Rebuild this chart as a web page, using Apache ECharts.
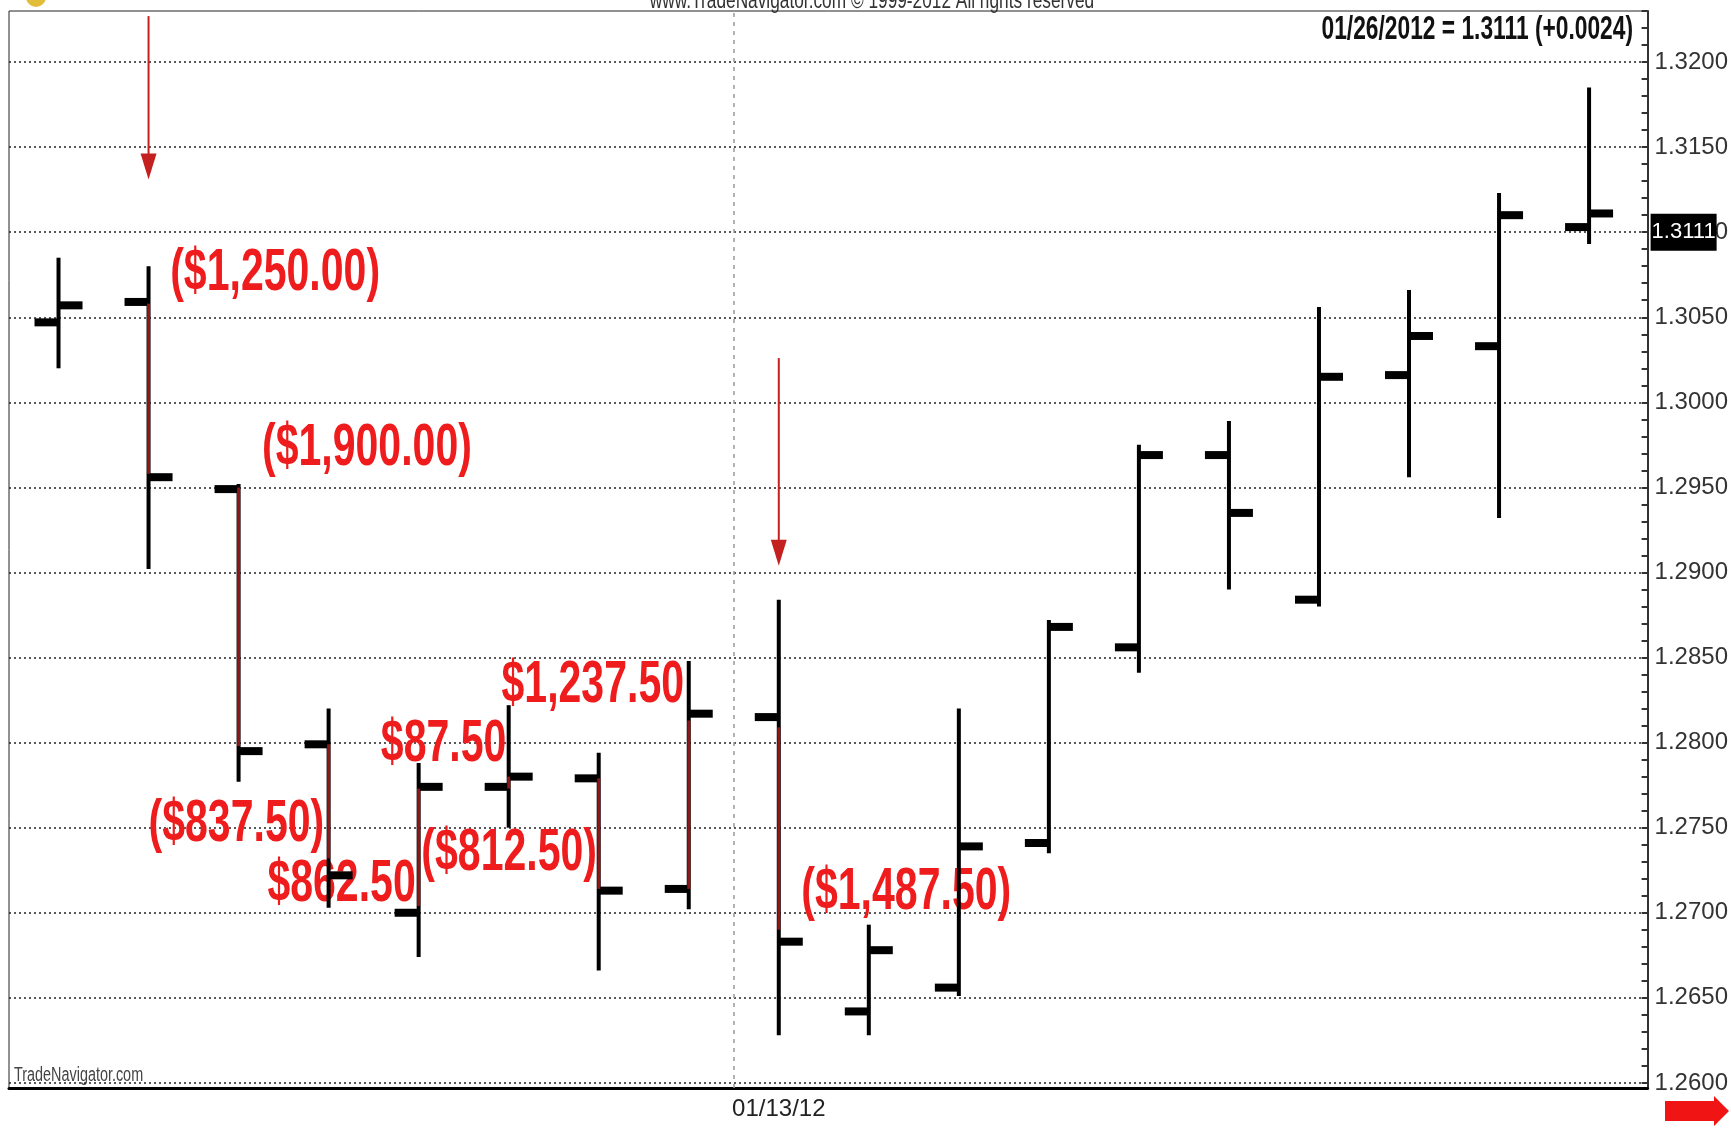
<!DOCTYPE html>
<html>
<head>
<meta charset="utf-8">
<title>EUR/USD daily - trades</title>
<script src="https://cdn.jsdelivr.net/npm/echarts@6/dist/echarts.min.js"></script>
<style>
  html, body { margin: 0; padding: 0; background: #fff; }
  #chart { width: 1731px; height: 1128px; }
</style>
</head>
<body>
<div id="chart"></div>
<script>
// daily bars
const dates = ['01/03/12', '01/04/12', '01/05/12', '01/06/12', '01/09/12', '01/10/12', '01/11/12', '01/12/12', '01/13/12',
  '01/16/12', '01/17/12', '01/18/12', '01/19/12', '01/20/12', '01/23/12', '01/24/12', '01/25/12', '01/26/12'];
const opens = [1.3047, 1.3059, 1.2949, 1.2799, 1.2700, 1.2774, 1.2779, 1.2714, 1.2815,
  1.2642, 1.2656, 1.2741, 1.2856, 1.2969, 1.2884, 1.3016, 1.3033, 1.3103];
const highs = [1.3085, 1.3080, 1.2952, 1.2820, 1.2788, 1.2822, 1.2794, 1.2848, 1.2884,
  1.2693, 1.2820, 1.2872, 1.2975, 1.2989, 1.3056, 1.3066, 1.3123, 1.3185];
const lows = [1.3020, 1.2902, 1.2777, 1.2703, 1.2674, 1.2750, 1.2666, 1.2702, 1.2628,
  1.2628, 1.2651, 1.2735, 1.2841, 1.2890, 1.2880, 1.2956, 1.2932, 1.3093];
const closes = [1.3057, 1.2956, 1.2795, 1.2722, 1.2774, 1.2780, 1.2713, 1.2817, 1.2683,
  1.2678, 1.2739, 1.2868, 1.2969, 1.2935, 1.3015, 1.3039, 1.3110, 1.3111];

// trades (bar index, entry, exit)
const tradeBars = [1, 2, 3, 4, 5, 6, 7, 8];
const tradeEntry = [1.3058, 1.2950, 1.2799, 1.2704, 1.2773, 1.2779, 1.2714, 1.2809];
const tradeExit = [1.2958, 1.2798, 1.2732, 1.2773, 1.2780, 1.2714, 1.2813, 1.2690];

// P&L text, anchored at (bar units, price)
const pnlText = ['($1,250.00)', '($1,900.00)', '($837.50)', '$862.50', '$87.50', '($812.50)', '$1,237.50', '($1,487.50)'];
const pnlX = [1.24, 2.26, 1.0, 2.32, 3.58, 4.03, 4.92, 8.25];
const pnlY = [1.3077, 1.2974, 1.2753, 1.2718, 1.2800, 1.2736, 1.2835, 1.2713];

// signal arrows
const arrowBars = [1, 8];
const arrowFrom = [1.3227, 1.3026];
const arrowTo = [1.3131, 1.2904];

// axis
const priceTicks = [1.2600, 1.2650, 1.2700, 1.2750, 1.2800, 1.2850, 1.2900, 1.2950, 1.3000, 1.3050, 1.3100, 1.3150, 1.3200];
const dateLabelAt = [8];
const sessionBreak = 7.5;

const font = "'Liberation Sans', Arial, sans-serif";
const squeeze = 0.69; // the original uses a condensed face

// minor ticks every 0.001
const minorTicks = [];
for (let i = 1259; i <= 1323; i++) minorTicks.push(i / 1000);

const barData = dates.map((d, i) => [i, opens[i], highs[i], lows[i], closes[i]]);
const tradeData = tradeBars.map((b, i) => [b, tradeEntry[i], tradeExit[i]]);
const pnlData = pnlText.map((t, i) => [pnlX[i], pnlY[i]]);
const arrowData = arrowBars.map((b, i) => [b, arrowFrom[i], arrowTo[i]]);

function renderBar(params, api) {
  const x = api.value(0);
  const o = api.coord([x, api.value(1)]);
  const h = api.coord([x, api.value(2)]);
  const l = api.coord([x, api.value(3)]);
  const c = api.coord([x, api.value(4)]);
  const w = 4, tick = 22, th = 8;
  return {
    type: 'group',
    children: [
      { type: 'rect', shape: { x: h[0] - w / 2, y: h[1], width: w, height: l[1] - h[1] }, style: { fill: '#000' } },
      { type: 'rect', shape: { x: o[0] - w / 2 - tick, y: o[1] - th / 2, width: tick + w / 2, height: th }, style: { fill: '#000' } },
      { type: 'rect', shape: { x: c[0], y: c[1] - th / 2, width: tick + w / 2, height: th }, style: { fill: '#000' } }
    ]
  };
}

function renderTrade(params, api) {
  const x = api.value(0);
  const a = api.coord([x, api.value(1)]);
  const b = api.coord([x, api.value(2)]);
  return {
    type: 'rect',
    shape: { x: a[0] - 1.5, y: Math.min(a[1], b[1]), width: 3, height: Math.abs(b[1] - a[1]) },
    style: { fill: '#8e1616' }
  };
}

function renderPnl(params, api) {
  const p = api.coord([api.value(0), api.value(1)]);
  return {
    type: 'text',
    x: p[0],
    y: p[1],
    scaleX: 0.684,
    style: {
      text: pnlText[params.dataIndex],
      x: 0, y: 2,
      fill: '#ee1c1c',
      fontSize: 60, fontWeight: 'bold', fontFamily: font,
      align: 'left', verticalAlign: 'middle'
    }
  };
}

function renderArrow(params, api) {
  const x = api.value(0);
  const s = api.coord([x, api.value(1)]);
  const e = api.coord([x, api.value(2)]);
  const headL = 26, headW = 8;
  return {
    type: 'group',
    children: [
      { type: 'line', shape: { x1: s[0], y1: s[1], x2: e[0], y2: e[1] - headL + 2 }, style: { stroke: '#c42020', lineWidth: 2 } },
      { type: 'polygon', shape: { points: [[e[0] - headW, e[1] - headL], [e[0] + headW, e[1] - headL], [e[0], e[1]]] }, style: { fill: '#c42020' } }
    ]
  };
}

const chart = echarts.init(document.getElementById('chart'));
chart.setOption({
  animation: false,
  backgroundColor: '#fff',
  graphic: [
    {
      type: 'text', x: 1633, y: 30, scaleX: squeeze,
      style: {
        text: '01/26/2012 = 1.3111 (+0.0024)', x: 0, y: 0,
        align: 'right', verticalAlign: 'middle',
        fontFamily: font, fontSize: 33, fontWeight: 'bold', fill: '#111'
      }
    },
    {
      type: 'text', x: 872, y: 1, scaleX: 0.72,
      style: {
        text: 'www.TradeNavigator.com \u00a9 1999-2012 All rights reserved', x: 0, y: 0,
        align: 'center', verticalAlign: 'middle',
        fontFamily: font, fontSize: 24, fill: '#333'
      }
    },
    { type: 'circle', shape: { cx: 36, cy: -3, r: 10 }, style: { fill: '#e2bd3c' } },
    {
      type: 'text', x: 14, y: 1075, scaleX: 0.72,
      style: {
        text: 'TradeNavigator.com', x: 0, y: 0,
        align: 'left', verticalAlign: 'middle',
        fontFamily: font, fontSize: 20, fill: '#444'
      }
    },
    {
      type: 'polygon',
      shape: { points: [[1665, 1101], [1714, 1101], [1714, 1096], [1729, 1111], [1714, 1126], [1714, 1121], [1665, 1121]] },
      style: { fill: '#f01414' }
    }
  ],
  grid: {
    left: 9, right: 79, top: 11, bottom: 40,
    show: true, borderColor: '#222', borderWidth: 1
  },
  xAxis: {
    type: 'value',
    min: -0.55,
    max: 17.65,
    axisLine: { show: true, onZero: false, lineStyle: { color: '#000', width: 3 } },
    axisTick: { show: false },
    splitLine: { show: false },
    axisLabel: {
      customValues: dateLabelAt,
      formatter: v => dates[Math.round(v)],
      fontFamily: font, fontSize: 24, color: '#222', margin: 9
    }
  },
  yAxis: [
    {
      type: 'value',
      position: 'right',
      min: 1.2597,
      max: 1.3230,
      splitNumber: 12,
      axisLine: { show: true, onZero: false, lineStyle: { color: '#333', width: 2 } },
      axisTick: { show: true, inside: true, length: 6, customValues: priceTicks, lineStyle: { color: '#333', width: 2 } },
      axisLabel: {
        customValues: priceTicks,
        formatter: v => v.toFixed(4),
        fontFamily: font, fontSize: 24, color: '#333', margin: 7,
        padding: [10, 0, 0, 0]
      },
      splitLine: { show: true, lineStyle: { color: '#222', width: 1.5, type: [2, 3] } }
    },
    {
      type: 'value',
      position: 'right',
      offset: 0,
      min: 1.2597,
      max: 1.3230,
      axisLine: { show: false, onZero: false },
      axisTick: { show: true, inside: true, length: 6, customValues: minorTicks, lineStyle: { color: '#333', width: 2 } },
      axisLabel: { show: false },
      splitLine: { show: false }
    }
  ],
  series: [
    {
      name: 'pnl',
      type: 'custom',
      z: 2,
      renderItem: renderPnl,
      encode: { x: 0, y: 1 },
      data: pnlData
    },
    {
      name: 'guides',
      type: 'line',
      z: 3,
      clip: false,
      data: barData.map(r => [r[0], r[4]]),
      symbol: 'none',
      lineStyle: { opacity: 0 },
      markLine: {
        silent: true,
        symbol: 'none',
        data: [
          {
            xAxis: sessionBreak,
            lineStyle: { color: '#999', width: 1.5, type: [4, 5] },
            label: { show: false }
          },
          {
            yAxis: closes[closes.length - 1],
            lineStyle: { color: '#000', width: 0.01 },
            label: {
              show: true,
              position: 'end',
              distance: 3,
              formatter: closes[closes.length - 1].toFixed(4),
              backgroundColor: '#000',
              color: '#fff',
              fontFamily: font,
              fontSize: 22,
              lineHeight: 22,
              padding: [8, 1, 7, 1]
            }
          }
        ]
      }
    },
    {
      name: 'bars',
      type: 'custom',
      z: 4,
      renderItem: renderBar,
      encode: { x: 0, y: [1, 2, 3, 4] },
      data: barData
    },
    {
      name: 'trades',
      type: 'custom',
      z: 5,
      renderItem: renderTrade,
      encode: { x: 0, y: [1, 2] },
      data: tradeData
    },
    {
      name: 'arrows',
      type: 'custom',
      z: 5,
      renderItem: renderArrow,
      encode: { x: 0, y: [1, 2] },
      data: arrowData
    }
  ]
});
</script>
</body>
</html>
